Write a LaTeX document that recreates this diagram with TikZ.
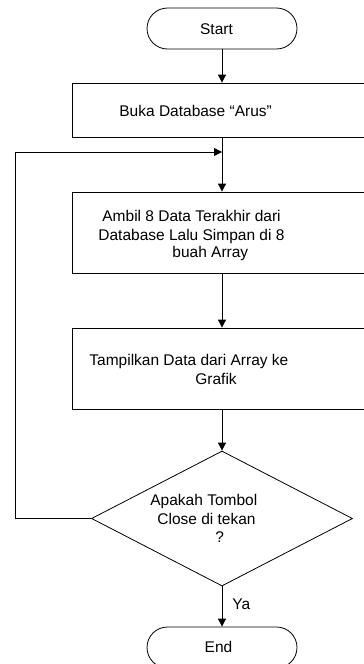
\documentclass[tikz,border=0pt]{standalone}
\usepackage{fontspec}
\setmainfont{Liberation Sans}
\usetikzlibrary{shapes.geometric,arrows.meta}

\begin{document}
\begin{tikzpicture}[x=1pt,y=-1pt,
  every node/.style={font=\fontsize{15.5}{18}\selectfont, inner sep=0pt},
  terminal/.style={draw, rectangle, rounded corners=20.5pt,
    minimum width=150pt, minimum height=41pt},
  process/.style={draw, rectangle, minimum width=300pt},
  decision/.style={draw, diamond, minimum width=261pt, minimum height=135pt},
  txt/.style={anchor=base west},
  flow/.style={line width=0.8pt, -{Triangle[length=8pt,width=8pt]}},
  line width=0.8pt]

\useasboundingbox (0,0) rectangle (364,664);
\clip (0,0) rectangle (364,664);

% shapes
\node[terminal] (start) at (222,28.5) {};
\node[process, minimum height=54pt] (buka) at (222,110) {};
\node[process, minimum height=81pt] (ambil) at (222,232.5) {};
\node[process, minimum height=81pt] (tampil) at (222,368.5) {};
\node[decision] (tanya) at (222,518.5) {};
\node[terminal] (end) at (222,647.5) {};
\coordinate (gabung) at (222,152);

% labels
\node[anchor=center] (tStart) at (216.5,29) {Start};
\node[txt] (tBuka) at (119,116.5) {Buka Database “Arus”};
\node[txt] (tAmbil1) at (102,221.5) {Ambil 8 Data Terakhir dari};
\node[txt] (tAmbil2) at (98,240) {Database Lalu Simpan di 8};
\node[txt] (tAmbil3) at (172,257.5) {buah Array};
\node[txt] (tTampil1) at (89,365.5) {Tampilkan Data dari Array ke};
\node[txt] (tTampil2) at (195,384.5) {Grafik};
\node[txt] (tTanya1) at (150,505.5) {Apakah Tombol};
\node[txt] (tTanya2) at (157,524.5) {Close di tekan};
\node[txt] (tTanya3) at (215,542.5) {?};
\node[txt] (tYa) at (232,609.5) {Ya};
\node[anchor=center] (tEnd) at (218.5,647) {End};

% connectors
\draw[flow] (start.south) -- (buka.north);
\draw[flow] (buka.south) -- (ambil.north);
\draw[flow] (ambil.south) -- (tampil.north);
\draw[flow] (tampil.south) -- (tanya.north);
\draw[flow] (tanya.south) -- (end.north);
\draw[flow] (tanya.west) -- ++(-75.5,0) |- (gabung);
\end{tikzpicture}
\end{document}
